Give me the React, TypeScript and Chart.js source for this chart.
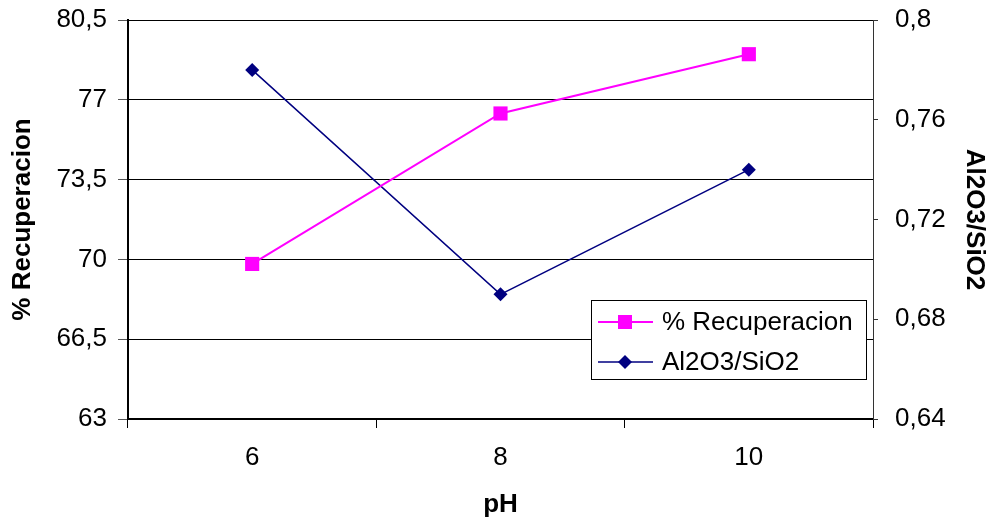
import React, { useEffect, useRef } from "react";
import { Chart, registerables } from "chart.js";

Chart.register(...registerables);

const categories = ["6", "8", "10"];
const recuperacion = [69.8, 76.4, 79.0];
const aluminaSilica = [0.78, 0.69, 0.74];
const leftTicks = [63, 66.5, 70, 73.5, 77, 80.5];
const rightTicks = [0.64, 0.68, 0.72, 0.76, 0.8];

const FONT = "'Liberation Sans', Arial, sans-serif";
const TICK_SIZE = 26;

const fmt = (v: number) => String(Number(v.toFixed(2))).replace(".", ",");

const insideLegend = {
  id: "insideLegend",
  afterDraw(chart: any) {
    const ctx = chart.ctx;
    const ca = chart.chartArea;
    const x0 = ca.right - 282;
    const y0 = ca.top + 280;
    const w = 275;
    const h = 79;
    ctx.save();
    ctx.fillStyle = "#ffffff";
    ctx.fillRect(x0, y0, w, h);
    ctx.strokeStyle = "#000000";
    ctx.lineWidth = 1;
    ctx.strokeRect(x0 + 0.5, y0 + 0.5, w, h);
    chart.data.datasets.forEach((ds: any, i: number) => {
      const cy = y0 + 22 + i * 40;
      ctx.strokeStyle = ds.borderColor;
      ctx.lineWidth = ds.borderWidth;
      ctx.beginPath();
      ctx.moveTo(x0 + 7, cy);
      ctx.lineTo(x0 + 62, cy);
      ctx.stroke();
      ctx.fillStyle = ds.backgroundColor;
      ctx.beginPath();
      if (ds.pointStyle === "rect") {
        ctx.rect(x0 + 34 - 7, cy - 7, 14, 14);
      } else {
        ctx.moveTo(x0 + 34, cy - 7);
        ctx.lineTo(x0 + 41, cy);
        ctx.lineTo(x0 + 34, cy + 7);
        ctx.lineTo(x0 + 27, cy);
        ctx.closePath();
      }
      ctx.fill();
      ctx.fillStyle = "#000000";
      ctx.font = `26px ${FONT}`;
      ctx.textBaseline = "middle";
      ctx.textAlign = "left";
      ctx.fillText(ds.label, x0 + 71, cy + 1);
    });
    ctx.restore();
  },
};

export default function App() {
  const ref = useRef<HTMLCanvasElement>(null);
  useEffect(() => {
    if (!ref.current) return;
    const chart = new Chart(ref.current, {
      type: "line",
      data: {
        labels: categories,
        datasets: [
          {
            label: "% Recuperacion",
            data: recuperacion,
            borderColor: "#FF00FF",
            backgroundColor: "#FF00FF",
            borderWidth: 2,
            pointStyle: "rect",
            pointRadius: 10,
            pointBorderWidth: 0,
            yAxisID: "y",
          },
          {
            label: "Al2O3/SiO2",
            data: aluminaSilica,
            borderColor: "#000080",
            backgroundColor: "#000080",
            borderWidth: 1.5,
            pointStyle: "rectRot",
            pointRadius: 7,
            pointBorderWidth: 0,
            yAxisID: "y1",
          },
        ],
      },
      options: {
        animation: false,
        responsive: false,
        maintainAspectRatio: false,
        layout: { padding: { top: 20, left: 0, right: 0, bottom: 0 } },
        plugins: {
          legend: { display: false },
          tooltip: { enabled: false },
        },
        scales: {
          x: {
            type: "category",
            offset: true,
            grid: {
              offset: true,
              drawOnChartArea: false,
              drawTicks: true,
              tickLength: 9,
              tickColor: "#000000",
            },
            border: { color: "#000000", width: 2 },
            ticks: {
              color: "#000000",
              font: { family: FONT, size: TICK_SIZE },
              padding: 14,
              maxRotation: 0,
            },
            title: {
              display: true,
              text: "pH",
              color: "#000000",
              font: { family: FONT, size: 26, weight: "bold" },
              padding: { top: 0, bottom: 0 },
            },
            afterFit: (s: any) => {
              s.height = 101;
              s.paddingLeft = 0;
              s.paddingRight = 0;
            },
          },
          y: {
            type: "linear",
            position: "left",
            min: 63,
            max: 80.5,
            afterBuildTicks: (s: any) => {
              s.ticks = leftTicks.map((v) => ({ value: v }));
            },
            grid: {
              color: "#000000",
              lineWidth: 1,
              drawTicks: true,
              tickLength: 10,
              tickColor: "#555555",
            },
            border: { color: "#000000", width: 2 },
            ticks: {
              color: "#000000",
              font: { family: FONT, size: TICK_SIZE },
              padding: 11,
              callback: (v: any) => fmt(Number(v)),
            },
            title: {
              display: true,
              text: "% Recuperacion",
              color: "#000000",
              font: { family: FONT, size: 26, weight: "bold" },
              padding: { top: 7, bottom: 0 },
            },
            afterFit: (s: any) => {
              s.width = 128;
              s.paddingTop = 0;
              s.paddingBottom = 0;
            },
          },
          y1: {
            type: "linear",
            position: "right",
            min: 0.64,
            max: 0.8,
            afterBuildTicks: (s: any) => {
              s.ticks = rightTicks.map((v) => ({ value: v }));
            },
            grid: {
              drawOnChartArea: false,
              drawTicks: true,
              tickLength: 5,
              tickColor: "#333333",
            },
            border: { color: "#333333", width: 1 },
            ticks: {
              color: "#000000",
              font: { family: FONT, size: TICK_SIZE },
              padding: 17,
              callback: (v: any) => fmt(Number(v)),
            },
            title: {
              display: true,
              text: "Al2O3/SiO2",
              color: "#000000",
              font: { family: FONT, size: 26, weight: "bold" },
              padding: { top: 0, bottom: 0 },
            },
            afterFit: (s: any) => {
              s.width = 117;
              s.paddingTop = 0;
              s.paddingBottom = 0;
            },
          },
        },
      },
      plugins: [insideLegend],
    });
    return () => chart.destroy();
  }, []);
  return (
    <div style={{ position: "fixed", left: 0, top: 0, width: 990, height: 520, background: "#fff" }}>
      <canvas ref={ref} width={990} height={520} style={{ width: 990, height: 520, display: "block" }} />
    </div>
  );
}
